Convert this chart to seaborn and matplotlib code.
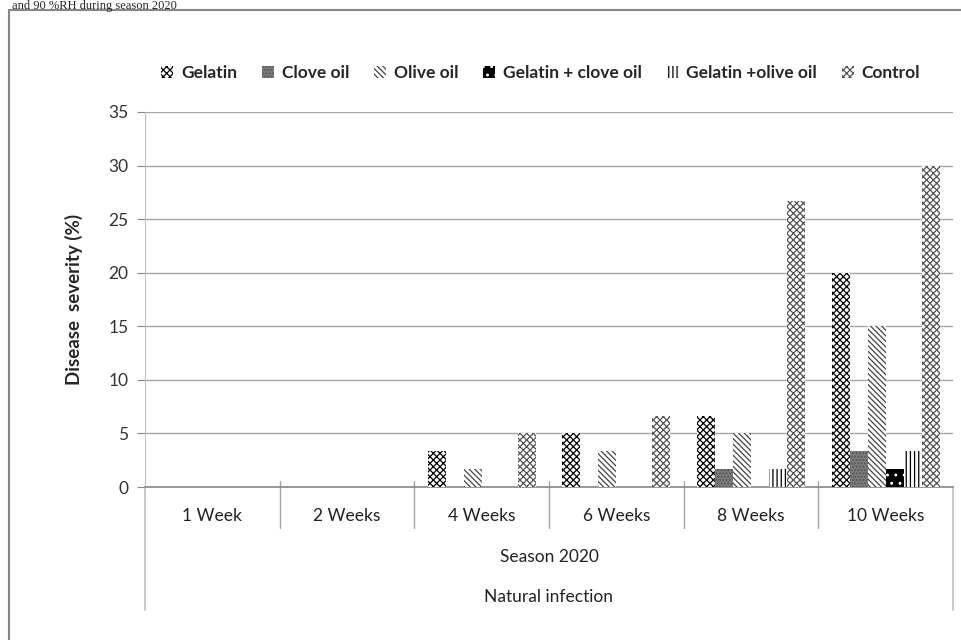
import seaborn as sns
import matplotlib.pyplot as plt
import pandas as pd
from matplotlib.patches import Patch
from matplotlib.lines import Line2D

# Données (sévérité de la maladie, %)
semaines = ['1 Week', '2 Weeks', '4 Weeks', '6 Weeks', '8 Weeks', '10 Weeks']
traitements = ['Gelatin', 'Clove oil', 'Olive oil', 'Gelatin + clove oil',
               'Gelatin +olive oil', 'Control']
gelatin = [0, 0, 3.33, 5.0, 6.67, 20.0]
clove_oil = [0, 0, 0, 0, 1.67, 3.33]
olive_oil = [0, 0, 1.67, 3.33, 5.0, 15.0]
gelatin_clove = [0, 0, 0, 0, 0, 1.67]
gelatin_olive = [0, 0, 0, 0, 1.67, 3.33]
control = [0, 0, 5.0, 6.67, 26.67, 30.0]
y_ticks = [0, 5, 10, 15, 20, 25, 30, 35]

series = [gelatin, clove_oil, olive_oil, gelatin_clove, gelatin_olive, control]
rows = []
for nom, valeurs in zip(traitements, series):
    for sem, v in zip(semaines, valeurs):
        rows.append({'Semaine': sem, 'Traitement': nom, 'Severite': v})
df = pd.DataFrame(rows)

# style des motifs (noir et blanc comme dans Excel)
styles = {
    'Gelatin': dict(facecolor='white', edgecolor='black', hatch='XXXXX'),
    'Clove oil': dict(facecolor='#7a7a7a', edgecolor='#555555', hatch='.....'),
    'Olive oil': dict(facecolor='white', edgecolor='#444444', hatch='\\\\\\\\\\\\'),
    'Gelatin + clove oil': dict(facecolor='black', edgecolor='white', hatch='..'),
    'Gelatin +olive oil': dict(facecolor='white', edgecolor='black', hatch='||||'),
    'Control': dict(facecolor='white', edgecolor='#555555', hatch='xxxxx'),
}

sns.set_style('white')
plt.rcParams['font.family'] = ['Lato', 'DejaVu Sans']
plt.rcParams['hatch.linewidth'] = 0.9

fig = plt.figure(figsize=(9.62, 6.4), dpi=100)
ax = fig.add_axes([145 / 962, 1 - 487 / 640, 808 / 962, 375 / 640])

sns.barplot(data=df, x='Semaine', y='Severite', hue='Traitement',
            order=semaines, hue_order=traitements, width=0.8,
            dodge=True, legend=False, ax=ax, zorder=3)

for nom, cont in zip(traitements, ax.containers):
    st = styles[nom]
    for bar in cont:
        bar.set_facecolor(st['facecolor'])
        bar.set_edgecolor(st['edgecolor'])
        bar.set_hatch(st['hatch'])
        bar.set_linewidth(0)

# axes et grille
ax.set_ylim(0, 35)
ax.set_yticks(y_ticks)
ax.set_yticklabels([str(t) for t in y_ticks], fontsize=12.5, color='#333333')
ax.set_xlim(-0.5, len(semaines) - 0.5)
ax.yaxis.grid(True, color='#a6a6a6', linewidth=1, zorder=0)
ax.set_axisbelow(True)
for s in ['top', 'right']:
    ax.spines[s].set_visible(False)
ax.spines['left'].set_color('#bfbfbf')
ax.spines['bottom'].set_color('#868686')
ax.spines['bottom'].set_linewidth(1.2)
ax.tick_params(axis='y', length=6, color='#868686', pad=6, left=True)
ax.tick_params(axis='x', length=0, pad=0)
ax.set_xticklabels([])
ax.set_xlabel('')
ax.set_ylabel('Disease  severity (%)', fontsize=13.5, fontweight='bold', labelpad=18)

# étiquettes à plusieurs niveaux sous l'axe
trans = ax.get_xaxis_transform()
for i, sem in enumerate(semaines):
    ax.text(i, -29 / 375, sem, transform=trans, ha='center', va='center',
            fontsize=12.5, color='#222222', clip_on=False)
for i in range(1, len(semaines)):
    ax.add_line(Line2D([i - 0.5, i - 0.5], [6 / 375, -41 / 375], transform=trans,
                       color='#a6a6a6', linewidth=1, clip_on=False))
for xb in [-0.5, len(semaines) - 0.5]:
    ax.add_line(Line2D([xb, xb], [0, -123 / 375], transform=trans,
                       color='#bfbfbf', linewidth=1.2, clip_on=False))
ax.text(2.5, -70 / 375, 'Season 2020', transform=trans, ha='center', va='center',
        fontsize=12.5, color='#222222', clip_on=False)
ax.text(2.5, -110 / 375, 'Natural infection', transform=trans, ha='center',
        va='center', fontsize=12.5, color='#222222', clip_on=False)

# légende
handles = [Patch(facecolor=styles[n]['facecolor'], edgecolor=styles[n]['edgecolor'],
                 hatch=styles[n]['hatch'], linewidth=0, label=n) for n in traitements]
fig.legend(handles=handles, loc='center', bbox_to_anchor=(0.562, 1 - 73 / 640),
           ncol=6, frameon=False, handlelength=0.7, handleheight=0.7,
           handletextpad=0.45, columnspacing=1.42,
           prop={'family': 'Lato', 'weight': 'bold', 'size': 12.5})

# cadre du graphique et légende de la figure (en haut)
fig.add_artist(Line2D([9 / 962, 9 / 962], [0, 1 - 10 / 640], color='#868686', linewidth=1.5))
fig.add_artist(Line2D([9 / 962, 1], [1 - 10 / 640, 1 - 10 / 640], color='#868686', linewidth=1.5))
fig.text(12 / 962, 1 - 9.5 / 640, 'and 90 %RH during season 2020', fontsize=9,
         family='Liberation Serif', va='baseline', ha='left')

plt.savefig('out.png', dpi=100)
